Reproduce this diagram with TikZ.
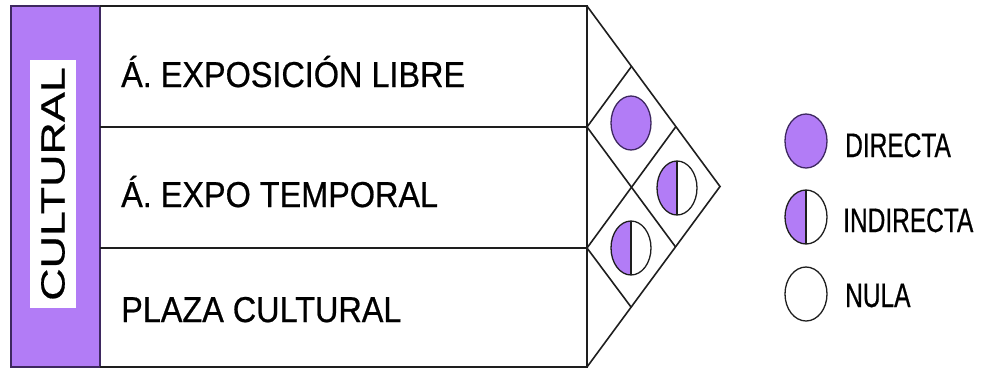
\documentclass[tikz,border=0pt]{standalone}
\usepackage{fontspec}
\setmainfont{Liberation Sans}
\newfontfamily\rowfont{Liberation Sans}[FakeStretch=0.9, FakeBold=0.6]
\newfontfamily\legfont{Liberation Sans}[FakeStretch=0.72, FakeBold=0.6]
\newfontfamily\catfont{Liberation Sans}[FakeStretch=1.34, FakeBold=0.5]
\usepackage{tikz}
\usetikzlibrary{shapes.geometric}
\definecolor{purp}{RGB}{178,124,246}
\definecolor{purpline}{RGB}{62,40,96}
\definecolor{ink}{RGB}{30,30,30}

\begin{document}
\begin{tikzpicture}[
  x=1pt, y=-1pt,
  frame/.style={draw=ink, line width=1.6pt},
  rowtext/.style={anchor=base west, inner sep=0pt, font=\rowfont\fontsize{36}{40}\selectfont},
  legtext/.style={anchor=base west, inner sep=0pt, font=\legfont\fontsize{34}{38}\selectfont},
  dot/.style={ellipse, draw=ink, line width=1.3pt, inner sep=0pt,
              minimum width=40pt, minimum height=54pt},
  full/.style={dot, fill=purp, draw=purpline},
  half/.style={dot, path picture={
      \fill[purp] (path picture bounding box.south west) rectangle (path picture bounding box.north);
      \draw[ink, line width=1.3pt] (path picture bounding box.south) -- (path picture bounding box.north);}},
  none/.style={dot, fill=white},
]
\useasboundingbox (0,0) rectangle (984,370);

% category column
\fill[purp] (11,6) rectangle (100,367);
\draw[draw=purpline, line width=1.6pt] (11,6) rectangle (100,367);
\node[rotate=90, fill=white, inner sep=0pt, minimum width=248pt, minimum height=46pt,
      font=\catfont\fontsize{33.5}{36}\selectfont] (cat) at (53,184) {CULTURAL};

% rows
\coordinate (tl) at (100,6);
\coordinate (tr) at (587,6);
\coordinate (br) at (587,367);
\coordinate (bl) at (100,367);
\coordinate (d1) at (587,127);
\coordinate (d2) at (587,248);
\draw[frame] (tl) -- (tr) -- (br) -- (bl);
\draw[frame] (100,127) -- (d1);
\draw[frame] (100,248) -- (d2);

\node[rowtext] (area1) at (121,87) {Á. EXPOSICIÓN LIBRE};
\node[rowtext] (area2) at (121,207) {Á. EXPO TEMPORAL};
\node[rowtext] (area3) at (121,322) {PLAZA CULTURAL};

% arrow head with its cells
\coordinate (tip) at (720,186.5);
\coordinate (u1) at (631.4,66.5);
\coordinate (u2) at (675.6,127);
\coordinate (mid) at (631.4,187.5);
\coordinate (l2) at (675.6,247);
\coordinate (l1) at (631.4,307.5);
\draw[frame] (tr) -- (tip) -- (br);
\draw[frame] (d1) -- (u1);
\draw[frame] (d1) -- (l2);
\draw[frame] (d2) -- (u2);
\draw[frame] (d2) -- (l1);

\node[full] (rel1) at (631,123) {};
\node[half] (rel2) at (677,188) {};
\node[half] (rel3) at (631,248) {};

% legend
\node[full, minimum width=42pt] (keyd) at (806,141) {};
\node[half, minimum width=42pt] (keyi) at (806,217) {};
\node[none, minimum width=42pt] (keyn) at (806,294) {};
\node[legtext] (labd) at (845,157) {DIRECTA};
\node[legtext] (labi) at (843,232) {INDIRECTA};
\node[legtext] (labn) at (845,307) {NULA};
\end{tikzpicture}
\end{document}
